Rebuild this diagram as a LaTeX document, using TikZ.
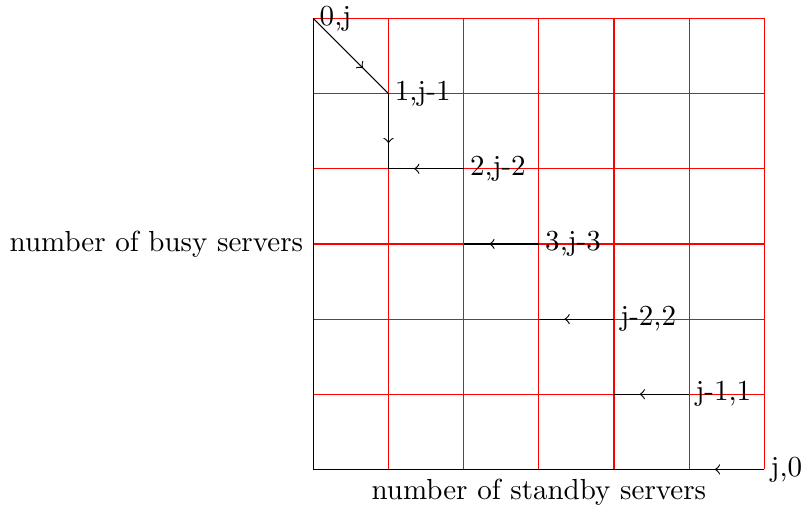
\documentclass[tikz,border=0pt]{standalone}
\usetikzlibrary{arrows.meta,positioning,calc,decorations.markings}

\begin{document}
\begin{tikzpicture}[
  x=0.91cm, y=0.91cm,
  lbl/.style={anchor=west, inner sep=2pt},
  midarrow/.style={postaction={decorate},
              decoration={markings, mark=at position 0.66 with {\arrow{to}}}}
]
\foreach \i in {0,...,6} {
  \draw[red] (\i,0) -- (\i,6);
  \draw[red] (0,\i) -- (6,\i);
}
\draw (0,6) -- (0,0) -- (6,0);

% states
\coordinate (s0) at (0,6);
\coordinate (s1) at (1,5);
\coordinate (c1) at (1,4);
\coordinate (s2) at (2,4);
\coordinate (s3) at (3,3);
\coordinate (c3) at (2,3);
\coordinate (s4) at (4,2);
\coordinate (c4) at (3,2);
\coordinate (s5) at (5,1);
\coordinate (c5) at (4,1);
\coordinate (s6) at (6,0);
\coordinate (c6) at (5,0);

\node[lbl] (l0) at (s0) {0,j};
\node[lbl] (l1) at (s1) {1,j-1};
\node[lbl] (l2) at (s2) {2,j-2};
\node[lbl] (l3) at (s3) {3,j-3};
\node[lbl] (l4) at (s4) {j-2,2};
\node[lbl] (l5) at (s5) {j-1,1};
\node[lbl] (l6) at (s6) {j,0};

\draw[midarrow] (s0) -- (s1);
\draw[midarrow] (s1) -- (c1);
\draw[midarrow] (s2) -- (c1);
\draw[midarrow] (s3) -- (c3);
\draw[midarrow] (s4) -- (c4);
\draw[midarrow] (s5) -- (c5);
\draw[midarrow] (s6) -- (c6);

\node[anchor=east] (ylab) at (0,3) {number of busy servers};
\node[anchor=north, inner sep=3pt] (xlab) at (3,0) {number of standby servers};
\end{tikzpicture}
\end{document}
